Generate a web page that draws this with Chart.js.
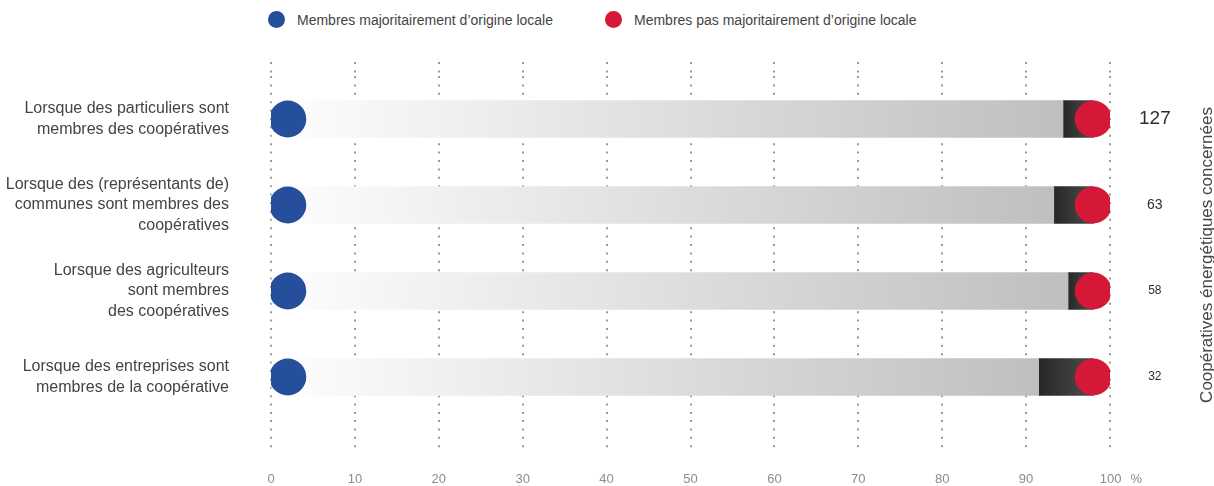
<!DOCTYPE html>
<html lang="fr">
<head>
<meta charset="utf-8">
<title>Coopératives énergétiques – origine des membres</title>
<script src="https://cdn.jsdelivr.net/npm/chart.js@4/dist/chart.umd.min.js"></script>
<style>
    html, body { margin: 0; padding: 0; background: #fff; }
    #wrap { position: relative; width: 1214px; height: 486px; font-family: "Liberation Sans", Arial, sans-serif; }
    #chart { position: absolute; left: 0; top: 0; }
    .legend-item { position: absolute; top: 11px; display: flex; align-items: center; font-size: 14px; color: #444; }
    .legend-dot { width: 17px; height: 17px; border-radius: 50%; margin-right: 12px; }
</style>
</head>
<body>
<div id="wrap">
    <div class="legend-item" style="left:268px"><span class="legend-dot" style="background:#254f9b"></span>Membres majoritairement d’origine locale</div>
    <div class="legend-item" style="left:605px"><span class="legend-dot" style="background:#d61838"></span>Membres pas majoritairement d’origine locale</div>
    <canvas id="chart" width="1214" height="486"></canvas>
</div>
<script>
// Catégories (une ligne par type de membre)
const categories = [
    ['Lorsque des particuliers sont', 'membres des coopératives'],
    ['Lorsque des (représentants de)', 'communes sont membres des', 'coopératives'],
    ['Lorsque des agriculteurs', 'sont membres', 'des coopératives'],
    ['Lorsque des entreprises sont', 'membres de la coopérative']
];

// Nombre de coopératives concernées par ligne
const cooperativeCounts = ['127', '63', '58', '32'];

// Parts (en %) : segment clair = majoritairement local, segment foncé = pas majoritairement local
const localShare = [94.4, 93.3, 95.0, 91.5];
const nonLocalShare = [3.6, 4.7, 3.0, 6.5];

// Position des pastilles sur l'échelle
const localMarker = [2, 2, 2, 2];
const nonLocalMarker = [98, 98, 98, 98];

// Graduations de l'axe horizontal
const xTicks = [0, 10, 20, 30, 40, 50, 60, 70, 80, 90, 100];

const BLUE = '#254f9b';
const RED = '#d61838';
const GRID = '#9a9a9a';
const DASH = [2, 6.4];
const FONT = '"Liberation Sans", Arial, sans-serif';
const countFontSizes = [19, 14, 12, 12];

function lightGradient(ctx) {
    const chart = ctx.chart;
    if (!chart.chartArea || ctx.dataIndex === undefined) return '#ddd';
    const x = chart.scales.x;
    const g = chart.ctx.createLinearGradient(x.getPixelForValue(0), 0, x.getPixelForValue(localShare[ctx.dataIndex]), 0);
    g.addColorStop(0, '#ffffff');
    g.addColorStop(0.05, '#fbfbfb');
    g.addColorStop(1, '#bfbfbf');
    return g;
}

function darkGradient(ctx) {
    const chart = ctx.chart;
    if (!chart.chartArea || ctx.dataIndex === undefined) return '#333';
    const x = chart.scales.x;
    const i = ctx.dataIndex;
    const g = chart.ctx.createLinearGradient(x.getPixelForValue(localShare[i]), 0, x.getPixelForValue(localShare[i] + nonLocalShare[i]), 0);
    g.addColorStop(0, '#262626');
    g.addColorStop(1, '#4d4d4d');
    return g;
}

// Titre vertical à droite, lu de bas en haut
const sideTitle = {
    id: 'sideTitle',
    afterDraw(chart) {
        const c = chart.ctx;
        c.save();
        c.translate(1207, 255);
        c.rotate(-Math.PI / 2);
        c.font = '17px ' + FONT;
        c.fillStyle = '#444';
        c.textAlign = 'center';
        c.textBaseline = 'middle';
        c.fillText('Coopératives énergétiques concernées', 0, 0);
        c.restore();
    }
};

new Chart(document.getElementById('chart'), {
    data: {
        labels: categories,
        datasets: [
            {
                type: 'line', label: 'Membres majoritairement d’origine locale',
                data: localMarker, indexAxis: 'y', stack: 'blue', order: 0,
                showLine: false, pointRadius: 18.5, pointHoverRadius: 18.5,
                pointBackgroundColor: BLUE, pointBorderWidth: 0
            },
            {
                type: 'line', label: 'Membres pas majoritairement d’origine locale',
                data: nonLocalMarker, indexAxis: 'y', stack: 'red', order: 0,
                showLine: false, pointRadius: 18.5, pointHoverRadius: 18.5,
                pointBackgroundColor: RED, pointBorderWidth: 0
            },
            {
                type: 'bar', label: 'local', data: localShare, stack: 'bars', order: 1,
                backgroundColor: lightGradient, barThickness: 37, borderWidth: 0
            },
            {
                type: 'bar', label: 'non local', data: nonLocalShare, stack: 'bars', order: 1,
                backgroundColor: darkGradient, barThickness: 37, borderWidth: 0
            }
        ]
    },
    options: {
        indexAxis: 'y',
        responsive: false,
        animation: false,
        events: [],
        layout: { padding: 0 },
        plugins: { legend: { display: false }, tooltip: { enabled: false } },
        scales: {
            x: {
                type: 'linear', position: 'bottom', stacked: true, min: 0, max: 100,
                afterBuildTicks: (s) => { s.ticks = xTicks.map(v => ({ value: v })); },
                afterFit: (s) => { s.height = 66; },
                z: 1,
                grid: { color: GRID, lineWidth: 2, drawTicks: true, tickLength: 32, tickBorderDash: DASH },
                border: { display: false, dash: DASH },
                ticks: {
                    padding: 20, color: '#8c8c8c',
                    font: { family: FONT, size: 13 },
                    maxRotation: 0,
                    callback: (v) => v === 100 ? '\u2007\u2007\u2007100\u2002\u2009%' : String(v)
                }
            },
            x2: {
                type: 'linear', position: 'top', min: 0, max: 100,
                afterBuildTicks: (s) => { s.ticks = xTicks.map(v => ({ value: v })); },
                afterFit: (s) => { s.height = 76; },
                grid: { color: GRID, lineWidth: 2, drawOnChartArea: false, drawTicks: true, tickLength: 14, tickBorderDash: DASH },
                border: { display: false },
                ticks: { display: false }
            },
            y: {
                type: 'category', position: 'left', stacked: true, offset: true,
                afterFit: (s) => { s.width = 271; },
                grid: { display: false, drawTicks: false },
                border: { display: false },
                ticks: {
                    padding: 42, color: '#444', crossAlign: 'near',
                    font: { family: FONT, size: 16, lineHeight: 1.27 }
                }
            },
            y2: {
                type: 'category', position: 'right', offset: true, labels: cooperativeCounts,
                afterFit: (s) => { s.width = 104; },
                grid: { display: false, drawTicks: false },
                border: { display: false },
                ticks: {
                    padding: 29, color: '#2e2e2e', crossAlign: 'center',
                    font: (ctx) => ({ family: FONT, size: countFontSizes[ctx.index] || 12 })
                }
            }
        }
    },
    plugins: [sideTitle]
});
</script>
</body>
</html>
